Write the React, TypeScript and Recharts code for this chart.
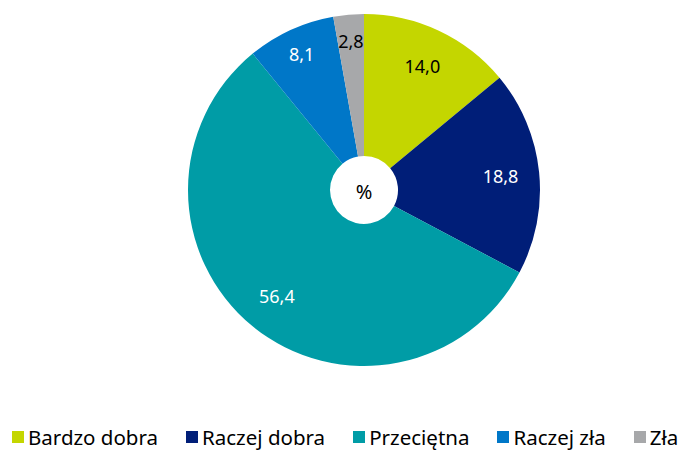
import { PieChart, Pie, Cell, Legend } from 'recharts'

const categories = ['Bardzo dobra', 'Raczej dobra', 'Przeciętna', 'Raczej zła', 'Zła']
const values = [14.0, 18.8, 56.4, 8.1, 2.8]
const colors = ['#c4d600', '#001e78', '#009ca6', '#0077c8', '#a7a8aa']
const labelColors = ['#000000', '#ffffff', '#ffffff', '#ffffff', '#000000']

const data = categories.map((name, i) => ({ name, value: values[i] }))

const FONT = '"Noto Sans", "Open Sans", sans-serif'
const RAD = Math.PI / 180

const renderLabel = (props: any) => {
  const { cx, cy, midAngle, outerRadius, percent, index } = props
  // small slices sit further out
  const r = outerRadius * (percent < 0.1 ? 0.85 : 0.78)
  const x = cx + r * Math.cos(-midAngle * RAD)
  const y = cy + r * Math.sin(-midAngle * RAD)
  return (
    <text
      x={x}
      y={y}
      fill={labelColors[index]}
      fontSize={18}
      fontFamily={FONT}
      textAnchor="middle"
      dominantBaseline="central"
    >
      {values[index].toFixed(1).replace('.', ',')}
    </text>
  )
}

const renderLegend = () => (
  <div style={{ display: 'flex', justifyContent: 'flex-start', paddingLeft: 12, fontFamily: FONT, fontSize: 20.5, whiteSpace: 'nowrap' }}>
    {categories.map((c, i) => (
      <div key={c} style={{ display: 'flex', alignItems: 'center', marginRight: i === categories.length - 1 ? 0 : 28 }}>
        <span style={{ width: 12, height: 12, background: colors[i], display: 'inline-block', marginRight: 4 }} />
        <span style={{ color: '#000' }}>{c}</span>
      </div>
    ))}
  </div>
)

export default function App() {
  return (
    <div style={{ position: 'absolute', left: 0, top: 0, width: 686, height: 452, background: '#fff', overflow: 'hidden' }}>
      <PieChart width={686} height={452} margin={{ top: 0, right: 0, bottom: 0, left: 0 }}>
        <Pie
          data={data}
          dataKey="value"
          nameKey="name"
          cx={364}
          cy={190}
          outerRadius={176}
          innerRadius={34}
          startAngle={90}
          endAngle={-270}
          stroke="none"
          label={renderLabel}
          labelLine={false}
          isAnimationActive={false}
        >
          {data.map((d, i) => (
            <Cell key={d.name} fill={colors[i]} />
          ))}
        </Pie>
        <text x={364} y={191} textAnchor="middle" dominantBaseline="central" fontSize={20} fontFamily={FONT} fill="#000">
          %
        </text>
        <Legend content={renderLegend} verticalAlign="bottom" wrapperStyle={{ bottom: 1, left: 0, width: 686 }} />
      </PieChart>
    </div>
  )
}
